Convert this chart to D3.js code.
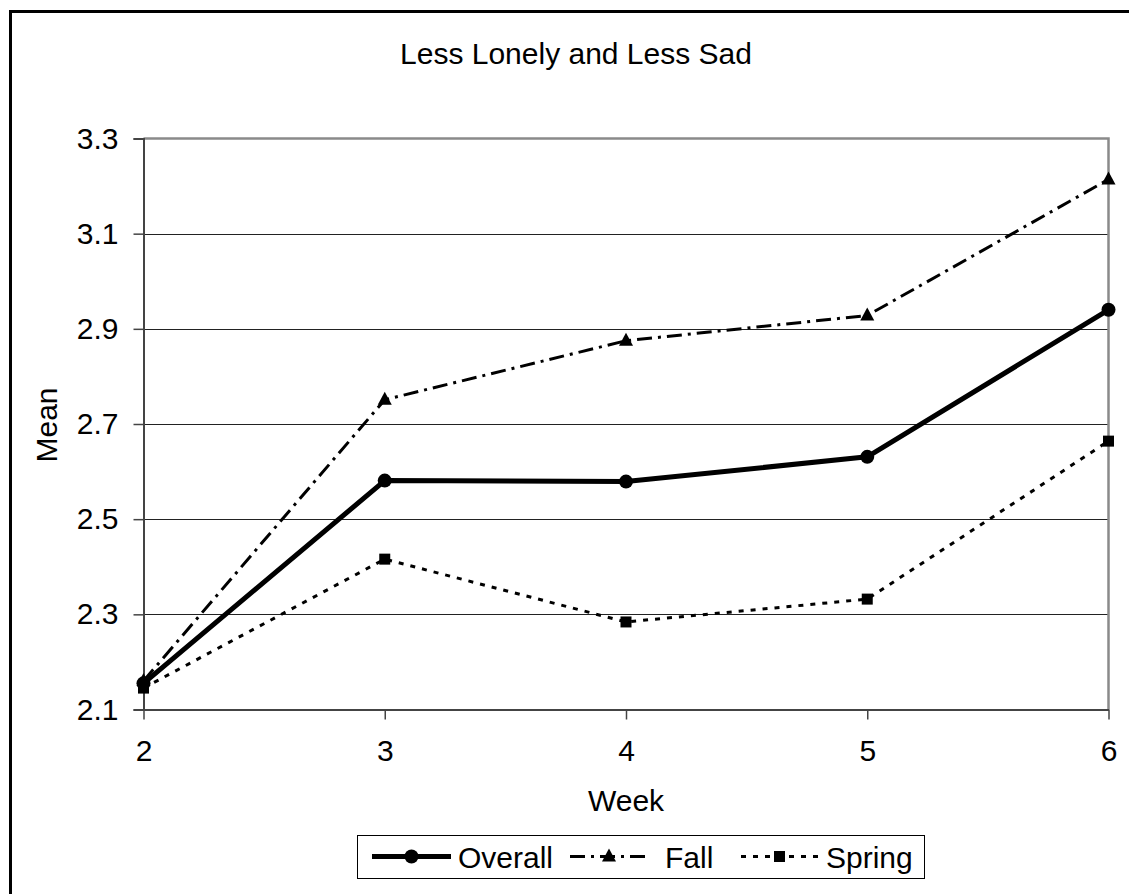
<!DOCTYPE html>
<html>
<head>
<meta charset="utf-8">
<script src="https://cdn.jsdelivr.net/npm/d3@7"></script>
<style>
  html, body { margin: 0; padding: 0; background: #fff; }
  svg { display: block; font-family: Arial, "Liberation Sans", sans-serif; }
</style>
</head>
<body>
<svg id="chart" width="1129" height="894"></svg>
<script>
// Weekly means by group
const weeks = [2, 3, 4, 5, 6];
const overall = [2.155, 2.581, 2.579, 2.631, 2.940];
const fall = [2.160, 2.751, 2.875, 2.928, 3.214];
const spring = [2.145, 2.416, 2.284, 2.332, 2.664];
const yTicks = [2.1, 2.3, 2.5, 2.7, 2.9, 3.1, 3.3];
const seriesNames = ["Overall", "Fall", "Spring"];

const svg = d3.select("#chart");
const W = 1129, H = 894;
const FS = 30;
const plot = { left: 143.5, right: 1108.5, top: 138.5, bottom: 709.5 };

// Outer frame (right and bottom edges fall outside the canvas)
svg.append("rect")
  .attr("x", 10.5).attr("y", 11.5)
  .attr("width", W + 20).attr("height", H + 20)
  .attr("fill", "#fff").attr("stroke", "#000").attr("stroke-width", 3);

const x = d3.scaleLinear().domain([2, 6]).range([plot.left, plot.right]);
const y = d3.scaleLinear().domain([2.1, 3.3]).range([plot.bottom, plot.top]);

// Horizontal gridlines
svg.append("g")
  .selectAll("line")
  .data(yTicks.slice(1, -1))
  .join("line")
  .attr("x1", plot.left).attr("x2", plot.right)
  .attr("y1", d => Math.round(y(d)) + 0.5).attr("y2", d => Math.round(y(d)) + 0.5)
  .attr("stroke", "#222").attr("stroke-width", 1);

// Plot area border on top and right
svg.append("path")
  .attr("d", `M${plot.left},${plot.top}H${plot.right}V${plot.bottom}`)
  .attr("fill", "none").attr("stroke", "#8a8a8a").attr("stroke-width", 2.5);

// Y axis
const yAxis = d3.axisLeft(y).tickValues(yTicks).tickFormat(d3.format(".1f"))
  .tickSize(10).tickPadding(15);
const gy = svg.append("g").attr("transform", `translate(${plot.left},0)`).call(yAxis);
gy.select(".domain").attr("stroke", "#444").attr("stroke-width", 2);
gy.selectAll(".tick line").attr("stroke", "#444").attr("stroke-width", 1.5);
gy.selectAll(".tick text").attr("font-size", FS).attr("fill", "#000")
  .attr("font-family", "Arial, 'Liberation Sans', sans-serif");

// X axis
const xAxis = d3.axisBottom(x).tickValues(weeks).tickFormat(d3.format("d"))
  .tickSize(10).tickSizeOuter(0).tickPadding(20);
const gx = svg.append("g").attr("transform", `translate(0,${plot.bottom})`).call(xAxis);
gx.select(".domain").attr("stroke", "#444").attr("stroke-width", 2);
gx.selectAll(".tick line").attr("stroke", "#444").attr("stroke-width", 1.5);
gx.selectAll(".tick text").attr("font-size", FS).attr("fill", "#000")
  .attr("font-family", "Arial, 'Liberation Sans', sans-serif");

// Titles
svg.append("text")
  .attr("x", 576).attr("y", 64)
  .attr("text-anchor", "middle").attr("font-size", FS).attr("fill", "#000")
  .text("Less Lonely and Less Sad");
svg.append("text")
  .attr("x", 626).attr("y", 811)
  .attr("text-anchor", "middle").attr("font-size", FS).attr("fill", "#000")
  .text("Week");
svg.append("text")
  .attr("transform", "translate(57,425) rotate(-90)")
  .attr("text-anchor", "middle").attr("font-size", FS).attr("fill", "#000")
  .text("Mean");

// Series styling
const styles = {
  Overall: { values: overall, width: 5, dash: null, marker: "circle" },
  Fall: { values: fall, width: 3, dash: "15,6,3,6", marker: "triangle" },
  Spring: { values: spring, width: 3, dash: "5,7", marker: "square" }
};

function drawMarker(g, type, cx, cy) {
  if (type === "circle") {
    g.append("circle").attr("cx", cx).attr("cy", cy).attr("r", 7).attr("fill", "#000");
  } else if (type === "triangle") {
    g.append("path")
      .attr("d", `M${cx},${cy - 8}L${cx + 7},${cy + 5}L${cx - 7},${cy + 5}Z`)
      .attr("fill", "#000");
  } else {
    g.append("rect").attr("x", cx - 5.5).attr("y", cy - 5.5)
      .attr("width", 11).attr("height", 11).attr("fill", "#000");
  }
}

const line = d3.line().x(d => x(d[0])).y(d => y(d[1]));
const drawOrder = ["Spring", "Fall", "Overall"];
drawOrder.forEach(name => {
  const s = styles[name];
  const pts = weeks.map((w, i) => [w, s.values[i]]);
  const g = svg.append("g");
  g.append("path")
    .attr("d", line(pts))
    .attr("fill", "none").attr("stroke", "#000")
    .attr("stroke-width", s.width)
    .attr("stroke-dasharray", s.dash)
    .attr("stroke-linejoin", "round");
  pts.forEach(p => drawMarker(g, s.marker, x(p[0]), y(p[1])));
});

// Legend
const legend = svg.append("g");
legend.append("rect")
  .attr("x", 357.5).attr("y", 835.5).attr("width", 567).attr("height", 43)
  .attr("fill", "#fff").attr("stroke", "#000").attr("stroke-width", 1);
const legendItems = [
  { name: "Overall", x0: 372, x1: 451, tx: 458 },
  { name: "Fall", x0: 570, x1: 648, tx: 665 },
  { name: "Spring", x0: 741, x1: 818, tx: 826 }
];
legendItems.forEach(it => {
  const s = styles[it.name];
  const ly = 856.5;
  legend.append("line")
    .attr("x1", it.x0).attr("x2", it.x1).attr("y1", ly).attr("y2", ly)
    .attr("stroke", "#000").attr("stroke-width", s.width)
    .attr("stroke-dasharray", s.dash);
  drawMarker(legend, s.marker, (it.x0 + it.x1) / 2, ly);
  legend.append("text")
    .attr("x", it.tx).attr("y", ly + 11)
    .attr("font-size", FS).attr("fill", "#000")
    .text(it.name);
});
</script>
</body>
</html>
